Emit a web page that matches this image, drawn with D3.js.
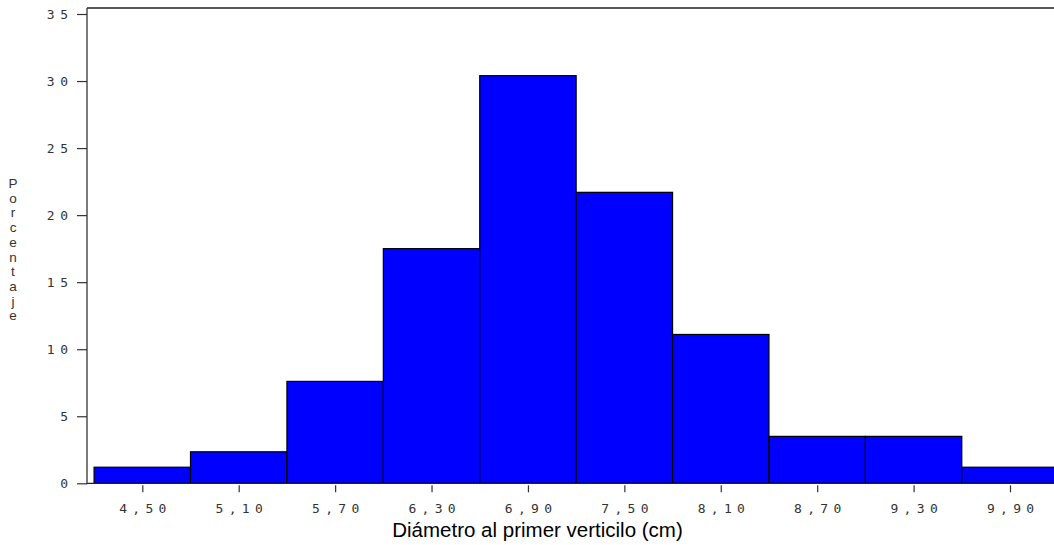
<!DOCTYPE html>
<html>
<head>
<meta charset="utf-8">
<script src="https://cdn.jsdelivr.net/npm/d3@7"></script>
<style>
  body { margin: 0; background: #fff; }
  svg { display: block; }
</style>
</head>
<body>
<svg id="chart" width="1054" height="545"></svg>
<script>
// ---- data ----
const binCenters = [4.50, 5.10, 5.70, 6.30, 6.90, 7.50, 8.10, 8.70, 9.30, 9.90];
const percentages = [1.2, 2.35, 7.6, 17.5, 30.4, 21.7, 11.1, 3.5, 3.5, 1.2];
const binWidth = 0.6;
const xTickLabels = ["4,50", "5,10", "5,70", "6,30", "6,90", "7,50", "8,10", "8,70", "9,30", "9,90"];
const yTicks = [0, 5, 10, 15, 20, 25, 30, 35];
const yLabel = "Porcentaje";
const xLabel = "Diámetro al primer verticilo (cm)";

const svg = d3.select("#chart");
const axisX = 87, baseY = 483.3, topY = 8;

const x = d3.scaleLinear().domain([4.50, 9.90]).range([142.3, 1010]);
const y = d3.scaleLinear().domain([0, 35]).range([baseY, 14]);

const monoFont = "'DejaVu Sans Mono', monospace";

// bars
svg.append("g").selectAll("rect")
  .data(binCenters)
  .join("rect")
  .attr("x", (d) => x(d - binWidth / 2))
  .attr("y", (d, i) => y(percentages[i]))
  .attr("width", (d) => x(d + binWidth / 2) - x(d - binWidth / 2))
  .attr("height", (d, i) => y(0) - y(percentages[i]))
  .attr("fill", "#0000ff")
  .attr("stroke", "#000")
  .attr("stroke-width", 1.2);

// frame: top line, baseline
svg.append("line")
  .attr("x1", axisX).attr("x2", 1054).attr("y1", topY).attr("y2", topY)
  .attr("stroke", "#222").attr("stroke-width", 1.3);
svg.append("line")
  .attr("x1", axisX).attr("x2", 1054).attr("y1", baseY).attr("y2", baseY)
  .attr("stroke", "#222").attr("stroke-width", 1.3);

// y axis
const yAxis = d3.axisLeft(y).tickValues(yTicks).tickSize(10).tickPadding(9)
  .tickFormat(d3.format("d"));
const gy = svg.append("g").attr("transform", `translate(${axisX},0)`).call(yAxis);
gy.select(".domain").remove();
gy.append("line").attr("x1", 0).attr("x2", 0).attr("y1", topY).attr("y2", baseY + 1)
  .attr("stroke", "#333").attr("stroke-width", 1.3);
gy.selectAll(".tick line").attr("stroke", "#333").attr("stroke-width", 1.2);
gy.selectAll(".tick text")
  .attr("font-family", monoFont).attr("font-size", 13)
  .attr("letter-spacing", "5.5px").attr("fill", "#333")
  .attr("dx", 5.5);

// x axis
const xAxis = d3.axisBottom(x).tickValues(binCenters).tickSize(7).tickPadding(11)
  .tickFormat((d, i) => xTickLabels[i]);
const gx = svg.append("g").attr("transform", `translate(0,${baseY + 2})`).call(xAxis);
gx.select(".domain").remove();
gx.selectAll(".tick line").attr("stroke", "#333").attr("stroke-width", 1.2);
gx.selectAll(".tick text")
  .attr("font-family", monoFont).attr("font-size", 13)
  .attr("letter-spacing", "5.3px").attr("fill", "#333")
  .attr("dx", 2.65);

// x label
svg.append("text")
  .attr("x", 537.5).attr("y", 537)
  .attr("text-anchor", "middle")
  .attr("font-family", "'Liberation Sans', Arial, sans-serif")
  .attr("font-size", 20.5).attr("fill", "#000")
  .text(xLabel);

// y label stacked letters
svg.append("g").selectAll("text")
  .data(yLabel.split(""))
  .join("text")
  .attr("x", 13)
  .attr("y", (d, i) => 188 + i * 14.7)
  .attr("text-anchor", "middle")
  .attr("font-family", "'Liberation Sans', Arial, sans-serif")
  .attr("font-size", 13.5).attr("fill", "#333")
  .text((d) => d);
</script>
</body>
</html>
